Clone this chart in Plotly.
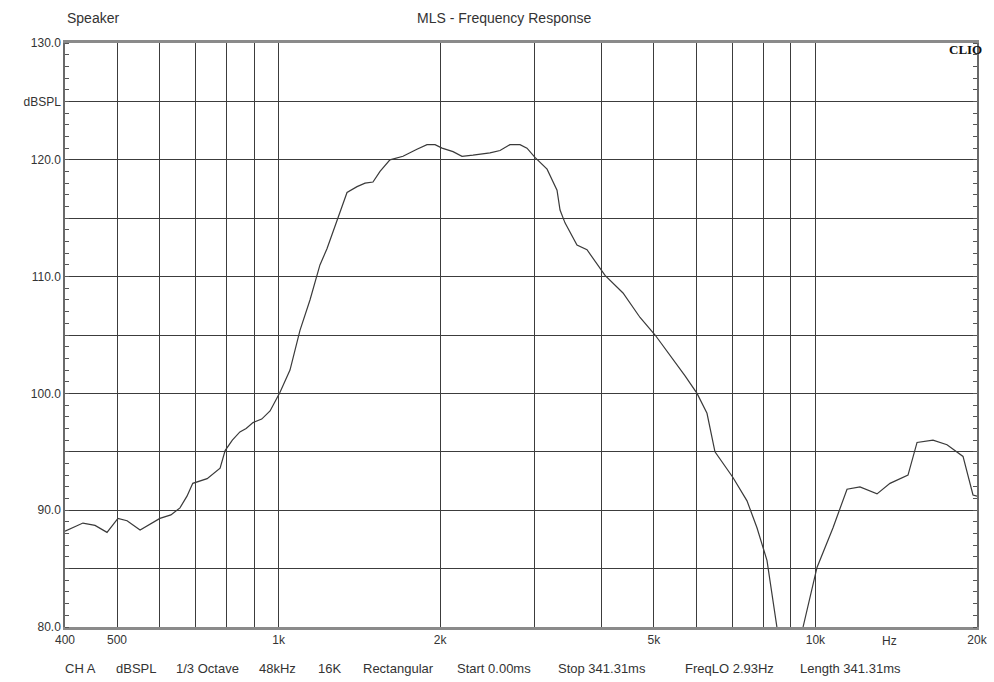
import plotly.graph_objects as go
import numpy as np

freq_hz = [400, 432, 455, 479, 502, 522, 552, 575, 601, 630, 655, 675, 692, 736, 778, 795,
           820, 847, 870, 896, 930, 964, 1006, 1050, 1096, 1144, 1194, 1231, 1285, 1341,
           1400, 1449, 1499, 1545, 1612, 1705, 1810, 1890, 1956, 2016, 2113, 2196, 2302,
           2476, 2585, 2698, 2816, 2902, 3003, 3163, 3301, 3344, 3416, 3596, 3754, 4056,
           4381, 4713, 5028, 5361, 5717, 6018, 6281, 6500, 7021, 7457, 7783, 8124, 8483,
           8800, 9100, 9300, 9484, 10069, 10785, 11452, 12106, 13025, 13771, 14877, 15465,
           16560, 17585, 18836, 19660, 20000]
spl_db = [88.2, 88.9, 88.7, 88.1, 89.3, 89.1, 88.3, 88.8, 89.3, 89.6, 90.2, 91.2, 92.3, 92.7,
          93.6, 95.1, 96.0, 96.7, 97.0, 97.5, 97.8, 98.5, 100.1, 102.0, 105.4, 108.0, 111.0,
          112.4, 114.9, 117.2, 117.7, 118.0, 118.1, 119.0, 120.0, 120.3, 120.9, 121.3, 121.3,
          121.0, 120.7, 120.3, 120.4, 120.6, 120.8, 121.3, 121.3, 121.0, 120.2, 119.2, 117.4,
          115.7, 114.6, 112.7, 112.3, 110.1, 108.6, 106.5, 105.0, 103.3, 101.5, 100.0, 98.3,
          95.0, 92.8, 90.8, 88.5, 85.7, 80.0, 75.0, 73.0, 76.0, 80.0, 85.1, 88.5, 91.8, 92.0,
          91.4, 92.3, 93.0, 95.8, 96.0, 95.6, 94.6, 91.3, 91.2]

x_tickvals = [400, 500, 600, 700, 800, 900, 1000, 2000, 3000, 4000, 5000, 6000, 7000,
              8000, 9000, 10000, 20000]
x_ticktext = ["400", "500", "", "", "", "", "1k", "2k", "", "", "5k", "", "", "", "", "10k", "20k"]
y_tickvals = [80, 85, 90, 95, 100, 105, 110, 115, 120, 125, 130]
y_ticktext = ["80.0", "", "90.0", "", "100.0", "", "110.0", "", "120.0", "dBSPL", "130.0"]

title_text = "MLS - Frequency Response"
left_text = "Speaker"
footer_items = ["CH A", "dBSPL", "1/3 Octave", "48kHz", "16K", "Rectangular",
                "Start 0.00ms", "Stop 341.31ms", "FreqLO 2.93Hz", "Length 341.31ms"]
footer_left_px = [65, 116, 176, 259, 318, 363, 457, 558, 685, 800]

FONT = "Liberation Sans, Arial, sans-serif"
W, H = 994, 682
ML, MR, MT, MB = 65, 17, 43, 55
PW = W - ML - MR

fig = go.Figure()
fig.add_trace(go.Scatter(x=freq_hz, y=spl_db, mode="lines",
                         line=dict(color="#3a3a3a", width=1.2), hoverinfo="skip"))

fig.update_layout(
    width=W, height=H,
    margin=dict(l=ML, r=MR, t=MT, b=MB),
    paper_bgcolor="white", plot_bgcolor="white",
    showlegend=False,
    font=dict(family=FONT, size=12, color="#333"),
)
fig.update_xaxes(
    type="log", range=[np.log10(400), np.log10(20000)],
    tickvals=x_tickvals, ticktext=x_ticktext, ticks="",
    showgrid=True, gridcolor="#3c3c3c", gridwidth=1.3,
    showline=True, linecolor="#8a8a8a", linewidth=2.5, mirror=True,
    zeroline=False, automargin=False, tickfont=dict(size=12, color="#333"),
)
fig.update_yaxes(
    range=[80, 130],
    tickvals=y_tickvals, ticktext=y_ticktext, ticks="",
    showgrid=True, gridcolor="#3c3c3c", gridwidth=1.3,
    showline=True, linecolor="#6a6a6a", linewidth=1.5, mirror="ticks",
    zeroline=False, automargin=False, tickfont=dict(size=12, color="#333"),
    minor=dict(dtick=1, ticks="inside", ticklen=4, tickcolor="#555", tickwidth=1, showgrid=False),
)

fig.add_annotation(text=left_text, xref="paper", yref="paper", x=0.0, y=1.0, yshift=25,
                   xanchor="left", yanchor="middle", showarrow=False,
                   font=dict(family=FONT, size=14, color="#333"))
fig.add_annotation(text=title_text, xref="paper", yref="paper", x=(504 - ML) / PW, y=1.0, yshift=25,
                   xanchor="center", yanchor="middle", showarrow=False,
                   font=dict(family=FONT, size=14, color="#333"))
fig.add_annotation(text="<b>CLIO</b>", xref="paper", yref="paper", x=(984 - ML) / PW, y=1.0, yshift=-6,
                   xanchor="right", yanchor="middle", showarrow=False,
                   font=dict(family="Liberation Serif, Times New Roman, serif", size=13, color="#111"))
fig.add_annotation(text="Hz", xref="x", yref="paper", x=np.log10(13770), y=0.0, yshift=-14,
                   xanchor="center", yanchor="middle", showarrow=False,
                   font=dict(family=FONT, size=12, color="#333"))
for txt, px in zip(footer_items, footer_left_px):
    fig.add_annotation(text=txt, xref="paper", yref="paper", x=(px - ML) / PW, y=0.0, yshift=-41,
                       xanchor="left", yanchor="middle", showarrow=False, xshift=-2,
                       font=dict(family=FONT, size=13, color="#333"))

fig.write_html("out.html", config={"displayModeBar": False},
               post_script="document.body.style.margin='0px';document.body.style.overflow='hidden';")
